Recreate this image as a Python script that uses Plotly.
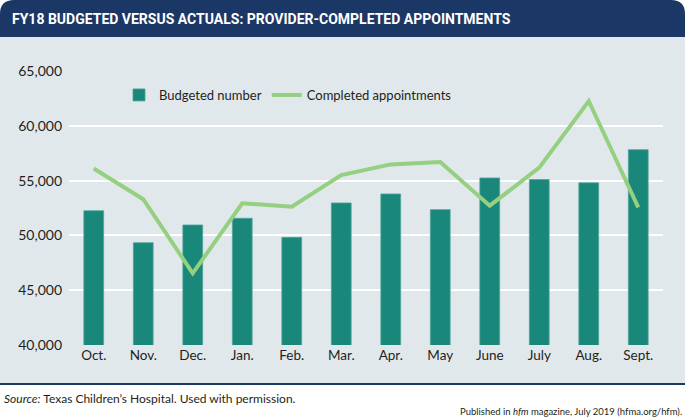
import plotly.graph_objects as go

months = ["Oct.", "Nov.", "Dec.", "Jan.", "Feb.", "Mar.", "Apr.", "May", "June", "July", "Aug.", "Sept."]
budgeted = [52250, 49330, 50950, 51560, 49820, 52960, 53780, 52350, 55240, 55100, 54800, 57820]
completed = [56100, 53300, 46540, 52930, 52620, 55510, 56480, 56700, 52710, 56180, 62260, 52560]
y_ticks = [40000, 45000, 50000, 55000, 60000, 65000]
y_tick_labels = ["40,000", "45,000", "50,000", "55,000", "60,000", "65,000"]

W, H = 686, 418
L, R, T, B = 69, 663, 71, 345

def xp(px):
    return (px - L) / (R - L)

def yp(py):
    return (B - py) / (B - T)

NAVY = "#1b3766"
PANEL = "#e1e8ec"
TEAL = "#1a877b"
GREEN = "#95cf80"
TXT = "#231f20"
FONT = "Lato"

fig = go.Figure()
fig.add_trace(go.Bar(x=months, y=budgeted, name="Budgeted number",
                     marker=dict(color=TEAL, line=dict(color="#4fa397", width=0.8)),
                     width=0.4))
fig.add_trace(go.Scatter(x=months, y=completed, name="Completed appointments",
                         mode="lines", line=dict(color=GREEN, width=4)))

# header with rounded top corners
r = 14
x0, x1, y0, y1 = 0, 685, 0, 37
path = (f"M {xp(x0)},{yp(y1)} L {xp(x0)},{yp(y0 + r)} "
        f"Q {xp(x0)},{yp(y0)} {xp(x0 + r)},{yp(y0)} "
        f"L {xp(x1 - r)},{yp(y0)} Q {xp(x1)},{yp(y0)} {xp(x1)},{yp(y0 + r)} "
        f"L {xp(x1)},{yp(y1)} Z")
shapes = [
    dict(type="rect", xref="paper", yref="paper", x0=xp(0), x1=xp(685), y0=yp(384), y1=yp(37),
         fillcolor=PANEL, line=dict(width=0), layer="below"),
    dict(type="path", xref="paper", yref="paper", path=path, fillcolor=NAVY,
         line=dict(width=0), layer="below"),
    dict(type="line", xref="paper", yref="paper", x0=xp(0), x1=xp(685), y0=yp(384), y1=yp(384),
         line=dict(color=NAVY, width=2), layer="below"),
]

annotations = [
    dict(text="<b>FY18 BUDGETED VERSUS ACTUALS: PROVIDER-COMPLETED APPOINTMENTS</b>",
         xref="paper", yref="paper", x=xp(10), y=yp(19), xanchor="left", yanchor="middle",
         showarrow=False, font=dict(family="Roboto", size=14, color="white")),
    dict(text="<i>Source:</i> Texas Children’s Hospital. Used with permission.",
         xref="paper", yref="paper", x=xp(2), y=yp(398), xanchor="left", yanchor="middle",
         showarrow=False, font=dict(family=FONT, size=12, color=TXT)),
    dict(text="Published in <i>hfm</i> magazine, July 2019 (hfma.org/hfm).",
         xref="paper", yref="paper", x=xp(684), y=yp(411), xanchor="right", yanchor="middle",
         showarrow=False, font=dict(family=FONT, size=9.5, color=TXT)),
]

fig.update_layout(
    width=W, height=H,
    margin=dict(l=L, r=W - R, t=T, b=H - B, pad=0),
    paper_bgcolor="white", plot_bgcolor=PANEL,
    font=dict(family=FONT, size=14, color=TXT),
    shapes=shapes, annotations=annotations,
    showlegend=True,
    legend=dict(orientation="h", x=xp(119), y=yp(95), xanchor="left", yanchor="middle",
                bgcolor="rgba(0,0,0,0)", font=dict(family=FONT, size=13, color=TXT),
                itemwidth=30, traceorder="normal"),
    bargap=0.6,
)
fig.update_xaxes(showgrid=False, showline=False, ticks="", tickfont=dict(size=13.5),
                 range=[-0.5, 11.5])
fig.update_yaxes(range=[40000, 65000], tickvals=y_ticks, ticktext=y_tick_labels,
                 showgrid=True, gridcolor="white", gridwidth=2, zeroline=False,
                 showline=False, ticks="", ticklabelstandoff=6, tickfont=dict(size=14))

fig.write_html("out.html", config={"displayModeBar": False},
               post_script="document.body.style.margin='0';document.body.style.overflow='hidden';")
